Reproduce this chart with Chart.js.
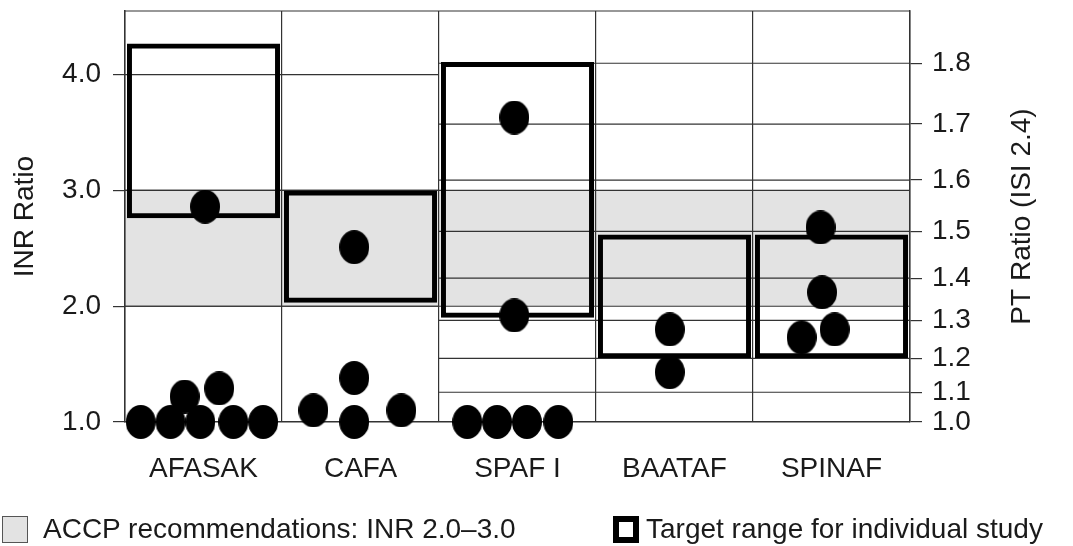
<!DOCTYPE html>
<html lang="en">
<head>
<meta charset="UTF-8">
<title>INR target ranges by study</title>
<script src="https://cdn.jsdelivr.net/npm/chart.js"></script>
<style>
  body { margin: 0; background: #fff; font-family: "Liberation Sans", Arial, sans-serif; }
  #wrap { position: relative; width: 1073px; height: 546px; overflow: hidden; }
  #chart { display: block; }
  .legend-item { position: absolute; top: 515px; height: 28px; display: flex; align-items: center;
                 font-size: 28px; color: #1a1a1a; white-space: nowrap; }
  .swatch { display: inline-block; width: 26px; height: 27px; box-sizing: border-box; }
</style>
</head>
<body>
<div id="wrap">
  <canvas id="chart" width="1073" height="546"></canvas>
  <div class="legend-item" style="left:2px">
    <span class="swatch" style="background:#e3e3e3;border:1px solid #555;margin-right:15px"></span>ACCP recommendations: INR 2.0–3.0
  </div>
  <div class="legend-item" style="left:613px">
    <span class="swatch" style="border:6px solid #000;margin-right:7px"></span>Target range for individual study
  </div>
</div>
<script>
    const studies = ['AFASAK', 'CAFA', 'SPAF I', 'BAATAF', 'SPINAF'];
    // target INR range of each study (the thick boxes)
    const targetLow = [2.76, 2.03, 1.90, 1.55, 1.55];
    const targetHigh = [4.27, 3.00, 4.11, 2.62, 2.62];
    const accpRange = [2.0, 3.0];

    const inrTicks = [1.0, 2.0, 3.0, 4.0];
    const ptTicks = [1.0, 1.1, 1.2, 1.3, 1.4, 1.5, 1.6, 1.7, 1.8];
    const isi = 2.4;
    const inrMin = 1.0;
    const inrMax = 4.55;

    // one dot per achieved INR: study index, sideways shift inside the column, INR value
    const dotStudy = [0, 0, 0, 0, 0, 0, 0, 0,
                      1, 1, 1, 1, 1,
                      2, 2, 2, 2, 2, 2,
                      3, 3,
                      4, 4, 4, 4];
    const dotShift = [-0.40, -0.21, -0.02, 0.19, 0.38, -0.12, 0.10, 0.01,
                      -0.30, -0.04, -0.04, 0.26, -0.04,
                      -0.32, -0.13, 0.06, 0.26, -0.02, -0.02,
                      -0.03, -0.03,
                      -0.07, -0.06, 0.02, -0.19];
    const dotInr = [1.00, 1.00, 1.00, 1.00, 1.00, 1.22, 1.29, 2.86,
                    1.10, 1.38, 1.00, 1.10, 2.51,
                    1.00, 1.00, 1.00, 1.00, 1.92, 3.63,
                    1.80, 1.43,
                    2.68, 2.12, 1.80, 1.73];

    const ink = '#1a1a1a';
    const lineCol = '#333';
    const fontFamily = '"Liberation Sans", Arial, sans-serif';
    const font28 = { size: 28, family: fontFamily };
    const tickFont = { size: 28, family: fontFamily, lineHeight: 0.6 };

    const plotTop = 11;      // wanted top edge of the plot on the page
    let shiftUp = 0;         // set after the first layout pass

    function ellipseDot(w, h) {
        const c = document.createElement('canvas');
        c.width = w;
        c.height = h;
        const g = c.getContext('2d');
        g.fillStyle = '#000';
        g.beginPath();
        g.ellipse(w / 2, h / 2, w / 2, h / 2, 0, 0, Math.PI * 2);
        g.fill();
        return c;
    }

    // band, partial grid lines, top border and the right-hand title
    const studyGrid = {
        id: 'studyGrid',
        beforeDraw(chart) {
            const { ctx, chartArea: a, scales: { y } } = chart;
            const top = y.getPixelForValue(accpRange[1]);
            const bot = y.getPixelForValue(accpRange[0]);
            ctx.save();
            ctx.fillStyle = '#e3e3e3';
            ctx.fillRect(a.left, top, a.right - a.left, bot - top);
            ctx.restore();
        },
        beforeDatasetsDraw(chart) {
            const { ctx, chartArea: a, scales: { x, y, y2 } } = chart;
            const split = (x.getPixelForValue(1) + x.getPixelForValue(2)) / 2;
            ctx.save();
            ctx.strokeStyle = lineCol;
            ctx.lineWidth = 1.2;
            const hline = (py, x0, x1) => {
                ctx.beginPath();
                ctx.moveTo(x0, py);
                ctx.lineTo(x1, py);
                ctx.stroke();
            };
            inrTicks.slice(1).forEach(v => hline(y.getPixelForValue(v), a.left, split));
            ptTicks.slice(1).forEach(p => hline(y2.getPixelForValue(Math.pow(p, isi)), split, a.right));
            accpRange.forEach(v => hline(y.getPixelForValue(v), a.left, a.right));
            hline(a.top, a.left, a.right);
            ctx.restore();
        },
        afterDraw(chart) {
            const { ctx, chartArea: a, scales: { y2 } } = chart;
            ctx.save();
            ctx.translate(y2.right - 51, (a.top + a.bottom) / 2);
            ctx.rotate(-Math.PI / 2);
            ctx.font = '28px ' + fontFamily;
            ctx.fillStyle = ink;
            ctx.textAlign = 'center';
            ctx.textBaseline = 'middle';
            ctx.fillText('PT Ratio (ISI 2.4)', 0, 0);
            ctx.restore();
        }
    };

    function noEdgePad(s) {
        s.paddingTop = 0;
        s.paddingBottom = 0;
        s.paddingLeft = 0;
        s.paddingRight = 0;
    }

    const chart = new Chart(document.getElementById('chart'), {
        type: 'bar',
        data: {
            labels: studies,
            datasets: [{
                label: 'Target range for individual study',
                data: studies.map((s, i) => [targetLow[i], targetHigh[i]]),
                backgroundColor: 'rgba(0,0,0,0)',
                borderColor: '#000',
                borderWidth: 5,
                borderSkipped: false,
                grouped: false,
                barPercentage: 0.975,
                categoryPercentage: 1.0,
                xAxisID: 'x',
                yAxisID: 'y',
                order: 2
            }, {
                type: 'scatter',
                label: 'INR',
                data: dotInr.map((v, i) => ({ x: dotStudy[i] + dotShift[i], y: v })),
                pointStyle: ellipseDot(30, 34),
                pointRadius: 15,
                clip: false,
                xAxisID: 'xDot',
                yAxisID: 'y',
                order: 1
            }]
        },
        options: {
            responsive: false,
            animation: false,
            events: [],
            layout: { padding: { top: plotTop, left: 0, right: 0, bottom: 0 } },
            plugins: { legend: { display: false }, tooltip: { enabled: false } },
            scales: {
                x: {
                    type: 'category',
                    offset: true,
                    grid: { offset: true, color: lineCol, lineWidth: 1.2, drawTicks: false },
                    border: { color: lineCol, width: 1.5 },
                    ticks: { color: ink, font: font28, padding: 30, autoSkip: false, maxRotation: 0 },
                    afterFit(s) { s.height = 124 - shiftUp; noEdgePad(s); }
                },
                xDot: { type: 'linear', min: -0.5, max: 4.5, offset: false, display: false },
                y: {
                    position: 'left',
                    min: inrMin,
                    max: inrMax,
                    afterBuildTicks(s) { s.ticks = inrTicks.map(v => ({ value: v })); },
                    ticks: { color: ink, font: tickFont, padding: 12, autoSkip: false,
                             callback: v => v.toFixed(1) },
                    grid: { drawOnChartArea: false, tickLength: 12, color: lineCol, lineWidth: 1.2 },
                    border: { color: lineCol, width: 1.5 },
                    title: { display: true, text: 'INR Ratio', color: ink, font: font28,
                             padding: { top: 8, bottom: 0 } },
                    afterFit(s) { s.width = 125; noEdgePad(s); }
                },
                y2: {
                    position: 'right',
                    min: inrMin,
                    max: inrMax,
                    afterBuildTicks(s) { s.ticks = ptTicks.map(p => ({ value: Math.pow(p, isi) })); },
                    ticks: { color: ink, font: tickFont, padding: 10, autoSkip: false,
                             callback: (v, i) => ptTicks[i].toFixed(1) },
                    grid: { drawOnChartArea: false, tickLength: 12, color: lineCol, lineWidth: 1.2 },
                    border: { color: lineCol, width: 1.5 },
                    afterFit(s) { s.width = 163; noEdgePad(s); }
                }
            }
        },
        plugins: [studyGrid]
    });

    // the layout may keep some room above the plot for the end tick labels;
    // move the canvas up by that amount and shorten the x axis to match
    shiftUp = Math.round(chart.chartArea.top - plotTop);
    if (shiftUp !== 0) {
        chart.canvas.style.marginTop = (-shiftUp) + 'px';
        chart.update();
    }
</script>
</body>
</html>
